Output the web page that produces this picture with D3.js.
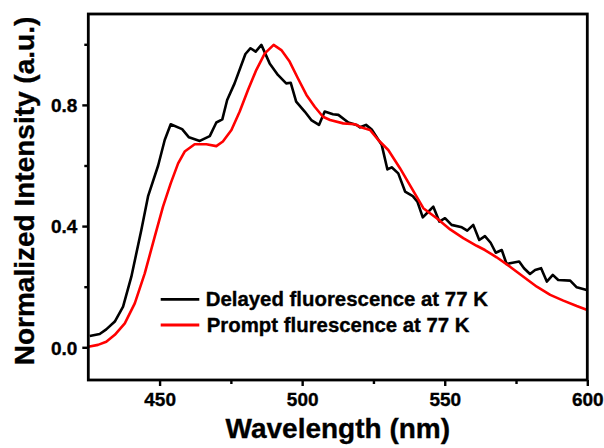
<!DOCTYPE html>
<html>
<head>
<meta charset="utf-8">
<script src="https://cdn.jsdelivr.net/npm/d3@7/dist/d3.min.js"></script>
<style>
  html, body { margin: 0; padding: 0; background: #fff; }
  svg { display: block; font-family: "Liberation Sans", Arial, sans-serif; font-weight: bold; }
  text { stroke: #000; stroke-width: 0.35px; }
</style>
</head>
<body>
<svg id="chart" width="604" height="448"></svg>
<script>
// Delayed fluorescence at 77 K (wavelength nm, normalized intensity)
const delayedWl = [425.5, 429, 431.3, 434.3, 437.2, 440.1, 443.6, 446, 449.5, 451.8, 453.9, 457.9, 460.3, 464.1, 467.6, 469.9, 472, 473.7, 476.3, 480.1, 481.9, 483.7, 485.7, 488.6, 491.5, 494.4, 496, 497.9, 500.9, 503.2, 505.9, 507.9, 510.8, 512.7, 516.2, 519.1, 520.3, 522.4, 524.4, 527.9, 529.9, 531.4, 533.7, 536.1, 538.8, 540.4, 542.3, 543.9, 546, 548.1, 550.1, 552.4, 556, 557.9, 560, 562.1, 564.1, 566.1, 567.9, 570, 571.7, 573.8, 576.1, 577.8, 579.9, 581.7, 583.8, 585.8, 587.9, 589.8, 594, 596.3, 599.8];
const delayedInt = [0.037, 0.044, 0.059, 0.085, 0.134, 0.233, 0.387, 0.50, 0.60, 0.684, 0.736, 0.72, 0.693, 0.681, 0.697, 0.742, 0.752, 0.816, 0.871, 0.968, 0.987, 0.976, 0.998, 0.937, 0.899, 0.871, 0.873, 0.811, 0.778, 0.750, 0.734, 0.778, 0.769, 0.767, 0.742, 0.734, 0.726, 0.734, 0.719, 0.668, 0.587, 0.594, 0.574, 0.514, 0.499, 0.481, 0.429, 0.444, 0.464, 0.415, 0.426, 0.404, 0.396, 0.385, 0.404, 0.354, 0.367, 0.345, 0.312, 0.321, 0.275, 0.279, 0.283, 0.261, 0.242, 0.255, 0.261, 0.217, 0.239, 0.222, 0.220, 0.198, 0.189];

// Prompt fluorescence at 77 K
const promptWl = [425, 428.4, 431.3, 434.3, 437.8, 441.3, 444.8, 448.3, 451.2, 453.9, 456.5, 458.8, 462.3, 466.4, 469.9, 472.2, 475.2, 478.1, 481, 483.9, 486.9, 490, 492.7, 495.6, 498.5, 501.5, 504.4, 507.3, 509.8, 514.4, 518.5, 520.9, 523.8, 526.7, 530.2, 534.3, 538.4, 542.5, 547.2, 551.9, 556.5, 561.2, 564.1, 568.2, 572.9, 577.6, 582.3, 587, 591.6, 596.3, 600];
const promptInt = [0.002, 0.008, 0.018, 0.041, 0.079, 0.145, 0.244, 0.365, 0.464, 0.541, 0.607, 0.646, 0.670, 0.670, 0.664, 0.679, 0.717, 0.778, 0.849, 0.915, 0.970, 0.998, 0.981, 0.943, 0.888, 0.833, 0.794, 0.761, 0.750, 0.739, 0.736, 0.725, 0.717, 0.684, 0.651, 0.591, 0.525, 0.459, 0.426, 0.389, 0.360, 0.335, 0.321, 0.297, 0.266, 0.233, 0.200, 0.173, 0.154, 0.136, 0.123];

const xMajorTicks = [450, 500, 550, 600];
const xMinorTicks = [475, 525, 575];
const yMajorTicks = [0.0, 0.4, 0.8];
const yMinorTicks = [0.2, 0.6, 1.0];
const seriesNames = ["Delayed fluorescence at 77 K", "Prompt flurescence at 77 K"];
const seriesColors = ["#000000", "#ff0000"];

const svg = d3.select("#chart");
const pL = 88.3, pR = 587.3, pT = 14, pB = 380;

const x = d3.scaleLinear().domain([425, 600]).range([pL, pR]);
const y = d3.scaleLinear().domain([-0.108, 1.1]).range([pB, pT]);

svg.append("clipPath").attr("id", "plotclip")
  .append("rect").attr("x", pL).attr("y", pT).attr("width", pR - pL).attr("height", pB - pT);

const line = d3.line().x(d => x(d[0])).y(d => y(d[1]));

const delayed = delayedWl.map((w, i) => [w, delayedInt[i]]);
const prompt = promptWl.map((w, i) => [w, promptInt[i]]);

const g = svg.append("g").attr("clip-path", "url(#plotclip)");
g.append("path").datum(delayed).attr("d", line)
  .attr("fill", "none").attr("stroke", seriesColors[0]).attr("stroke-width", 2.6).attr("stroke-linejoin", "round");
g.append("path").datum(prompt).attr("d", line)
  .attr("fill", "none").attr("stroke", seriesColors[1]).attr("stroke-width", 2.6).attr("stroke-linejoin", "round");

// Axes
const xAxis = svg.append("g").attr("transform", `translate(0,${pB})`)
  .call(d3.axisBottom(x).tickValues(xMajorTicks).tickFormat(d3.format("d")).tickSize(6).tickSizeOuter(0));
const xMinor = svg.append("g").attr("transform", `translate(0,${pB})`)
  .call(d3.axisBottom(x).tickValues(xMinorTicks).tickFormat("").tickSize(4).tickSizeOuter(0));
const yAxis = svg.append("g").attr("transform", `translate(${pL},0)`)
  .call(d3.axisLeft(y).tickValues(yMajorTicks).tickFormat(d3.format(".1f")).tickSize(6).tickSizeOuter(0));
const yMinor = svg.append("g").attr("transform", `translate(${pL},0)`)
  .call(d3.axisLeft(y).tickValues(yMinorTicks).tickFormat("").tickSize(4).tickSizeOuter(0));

[xAxis, xMinor, yAxis, yMinor].forEach(a => {
  a.select(".domain").remove();
  a.selectAll(".tick line").attr("stroke", "#000").attr("stroke-width", 2.4);
});
xAxis.selectAll(".tick text").attr("font-size", 19).attr("font-weight", "bold")
  .attr("font-family", "'Liberation Sans', Arial, sans-serif").attr("fill", "#000").attr("dy", null).attr("y", 26);
yAxis.selectAll(".tick text").attr("font-size", 19).attr("font-weight", "bold")
  .attr("font-family", "'Liberation Sans', Arial, sans-serif").attr("fill", "#000").attr("x", -11).attr("dy", "0.36em");

// Frame
svg.append("rect").attr("x", pL).attr("y", pT).attr("width", pR - pL).attr("height", pB - pT)
  .attr("fill", "none").attr("stroke", "#000").attr("stroke-width", 2.8);

// Titles
svg.append("text").attr("x", (pL + pR) / 2).attr("y", 438).attr("text-anchor", "middle")
  .attr("font-size", 28).attr("font-weight", "bold").attr("fill", "#000").text("Wavelength (nm)");
svg.append("text").attr("transform", "translate(34,191) rotate(-90)").attr("text-anchor", "middle")
  .attr("font-size", 28).attr("font-weight", "bold").attr("fill", "#000").text("Normalized Intensity (a.u.)");

// Legend
const legendY = [299.3, 325];
const legendTextY = [306, 331.7];
seriesNames.forEach((name, i) => {
  svg.append("line").attr("x1", 160.7).attr("x2", 199.3).attr("y1", legendY[i]).attr("y2", legendY[i])
    .attr("stroke", seriesColors[i]).attr("stroke-width", 2.8);
  svg.append("text").attr("x", 205.7 + i).attr("y", legendTextY[i]).attr("font-size", 20.4)
    .attr("font-weight", "bold").attr("fill", "#000").text(name);
});
</script>
</body>
</html>
